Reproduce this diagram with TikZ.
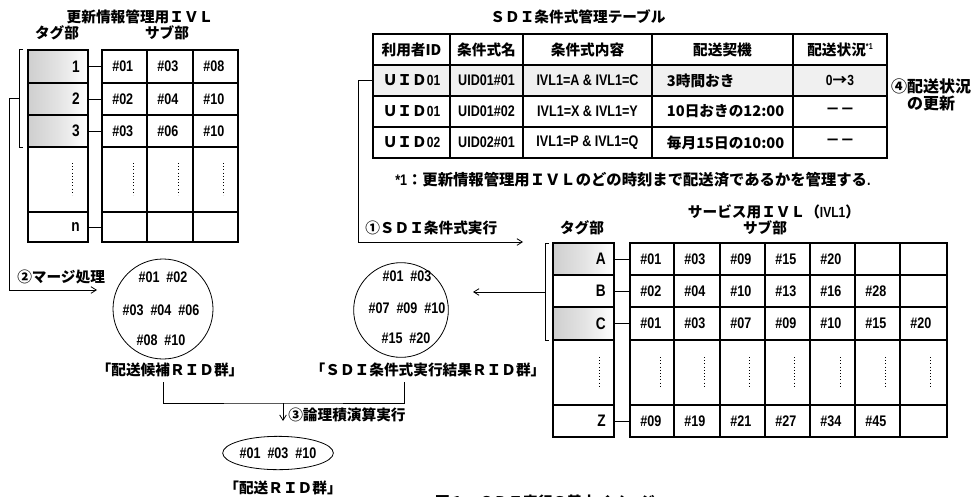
\documentclass[tikz,border=0pt]{standalone}
\usepackage{fontspec}
\setmainfont{Noto Sans CJK JP}
\newfontfamily\numf{Liberation Sans}[FakeStretch=0.82]
\usetikzlibrary{shapes.geometric,arrows.meta}
\tikzset{
 cellc/.style={draw, line width=0.9pt, inner sep=0pt, outer sep=0pt, rectangle},
 nos/.style={},
 shd/.style={left color=gray!38, right color=white, middle color=gray!22},
 shdl/.style={fill=gray!12},
 txt/.style={inner sep=0pt, font=\fontsize{11}{12}\selectfont\bfseries},
 num/.style={inner sep=0pt, font=\fontsize{11.5}{12}\selectfont\numf\bfseries},
 tagl/.style={inner sep=0pt, font=\fontsize{12.5}{13}\selectfont\numf\bfseries},
 conn/.style={line width=0.6pt},
 arr/.style={line width=0.6pt, -{Straight Barb[length=4pt,width=5pt]}},
 dotl/.style={line width=0.6pt, dash pattern=on 0.8pt off 1.6pt},
 circ/.style={draw, circle, line width=0.6pt, inner sep=0pt},
}
\newcommand\mkcell[6][nos]{%
  \pgfmathsetmacro\cw{(#5-#3)*0.75}%
  \pgfmathsetmacro\ch{(#6-#4)*0.75}%
  \node[cellc, #1, minimum width=\cw pt, minimum height=\ch pt, anchor=north west] (#2) at (#3,#4) {};}
\begin{document}
\begin{tikzpicture}[x=0.75pt,y=-0.75pt]
\useasboundingbox (0,0) rectangle (973,496);

% ---------- left IVL ----------
\node[txt] (ltitle) at (140,17) {更新情報管理用ＩＶＬ};
\node[txt] (ltag) at (57,33) {タグ部};
\node[txt] (lsub) at (167,33) {サブ部};
\foreach \i/\ya/\yb/\s in {1/50/83/shd,2/83/115/shd,3/115/147/shd,4/147/212/nos,5/212/242/nos}{
  \mkcell[\s]{lt\i}{28}{\ya}{88}{\yb}
  \foreach \j/\xa/\xb in {1/102/147,2/147/193,3/193/238}{\mkcell{ls\i-\j}{\xa}{\ya}{\xb}{\yb}}
}
\foreach \i/\t in {1/1,2/2,3/3,5/n}{
  \node[tagl, anchor=east] (ltl\i) at ([xshift=-6pt]lt\i.east) {\t};
  \draw[conn] (lt\i.east) -- (ls\i-1.west);
}
\foreach \i/\a/\b/\c in {1/01/03/08,2/02/04/10,3/03/06/10}{
  \node[num, anchor=west] (lx\i-1) at ([xshift=7.5pt]ls\i-1.west) {\#\a};
  \node[num, anchor=west] (lx\i-2) at ([xshift=7.5pt]ls\i-2.west) {\#\b};
  \node[num, anchor=west] (lx\i-3) at ([xshift=7.5pt]ls\i-3.west) {\#\c};
}
\foreach \x in {72,133,178,223}{\draw[dotl] (\x,163) -- (\x,195);}
\draw[conn] (23,49) -- (19,49) -- (19,147) -- (23,147);
\coordinate (lbm) at (19,98);
\coordinate (mEnd) at (97,290);
\draw[arr] (lbm) -- ++(-10,0) |- (mEnd);
\node[txt, anchor=west] (mergelab) at (17,277) {②マージ処理};

% ---------- SDI table ----------
\node[txt] (stitle) at (578,17) {ＳＤＩ条件式管理テーブル};
\foreach \r/\ya/\yb/\s in {0/34/65/nos,1/65/96/shdl,2/96/127/nos,3/127/158/nos}{
  \foreach \c/\xa/\xb in {1/373/450,2/450/523,3/523/652,4/652/793,5/793/887}{\mkcell[\s]{sd\r-\c}{\xa}{\ya}{\xb}{\yb}}
}
\node[txt] (h1) at (sd0-1) {利用者ID};
\node[txt] (h2) at (sd0-2) {条件式名};
\node[txt] (h3) at (sd0-3) {条件式内容};
\node[txt] (h4) at (sd0-4) {配送契機};
\node[txt] (h5) at (sd0-5) {配送状況\raisebox{4pt}{\fontsize{6.5}{7}\selectfont\numf *1}};
\foreach \r/\u/\n/\e/\k/\s in {1/{ＵＩＤ{\numf\bfseries 01}}/{UID01\#01}/{IVL1=A \& IVL1=C}/{3時間おき}/{{\numf\bfseries 0}→{\numf\bfseries 3}},
  2/{ＵＩＤ{\numf\bfseries 01}}/{UID01\#02}/{IVL1=X \& IVL1=Y}/{10日おきの12:00}/{－－},
  3/{ＵＩＤ{\numf\bfseries 02}}/{UID02\#01}/{IVL1=P \& IVL1=Q}/{毎月15日の10:00}/{－－}}{
  \node[txt] (su\r) at (sd\r-1) {\u};
  \node[num] (sn\r) at (sd\r-2) {\n};
  \node[num] (se\r) at (sd\r-3) {\e};
  \node[txt, anchor=west] (sk\r) at ([xshift=11pt]sd\r-4.west) {\k};
  \node[txt] (ss\r) at (sd\r-5) {\s};
}
\node[txt, align=center, font=\fontsize{12}{13}\selectfont\bfseries] (upd) at (931,95) {④配送状況\\[0pt]の更新};
\node[txt, anchor=west, font=\fontsize{11.5}{13}\selectfont\bfseries] (fnote) at (395,180) {{\numf\bfseries *1}：更新情報管理用ＩＶＬのどの時刻まで配送済であるかを管理する{\numf\bfseries .}};
\coordinate (c1End) at (523,242);
\draw[arr] (sd1-1.west) -- ++(-15,0) |- (c1End);
\node[txt, anchor=west] (execlab) at (365,228) {①ＳＤＩ条件式実行};

% ---------- service IVL ----------
\node[txt] (rtitle) at (774,212) {サービス用ＩＶＬ（{\numf\bfseries IVL1}）};
\node[txt] (rtag) at (582,228) {タグ部};
\node[txt] (rsub) at (765,228) {サブ部};
\foreach \i/\ya/\yb/\s in {1/243/275/shd,2/275/307/nos,3/307/340/shd,4/340/405/nos,5/405/437/nos}{
  \mkcell[\s]{rt\i}{553}{\ya}{614}{\yb}
  \foreach \j/\xa/\xb in {1/630/674,2/674/720,3/720/765,4/765/810,5/810/855,6/855/900,7/900/947}{\mkcell{rs\i-\j}{\xa}{\ya}{\xb}{\yb}}
}
\foreach \i/\t in {1/A,2/B,3/C,5/Z}{
  \node[tagl, anchor=east] (rtl\i) at ([xshift=-6pt]rt\i.east) {\t};
  \draw[conn] (rt\i.east) -- (rs\i-1.west);
}
\foreach \i/\j/\t in {1/1/01,1/2/03,1/3/09,1/4/15,1/5/20,
  2/1/02,2/2/04,2/3/10,2/4/13,2/5/16,2/6/28,
  3/1/01,3/2/03,3/3/07,3/4/09,3/5/10,3/6/15,3/7/20,
  5/1/09,5/2/19,5/3/21,5/4/27,5/5/34,5/6/45}{
  \node[num, anchor=west] (rx\i-\j) at ([xshift=7.5pt]rs\i-\j.west) {\#\t};
}
\foreach \x in {599,660,704,749,794,840,885,930}{\draw[dotl] (\x,357) -- (\x,388);}
\draw[conn] (549,243) -- (545,243) -- (545,340) -- (549,340);
\coordinate (rbm) at (545,292);
\coordinate (rEnd) at (473,292);
\draw[arr] (rbm) -- (rEnd);

% ---------- RID groups ----------
\node[circ, minimum size=75pt] (lcirc) at (163,309) {};
\node[num] (lc1) at (163,277) {\#01\ \ \#02};
\node[num] (lc2) at (161,310) {\#03\ \ \#04\ \ \#06};
\node[num] (lc3) at (161,340) {\#08\ \ \#10};
\node[circ, minimum size=71pt] (rcirc) at (401,310) {};
\node[num] (rc1) at (407,276) {\#01\ \ \#03};
\node[num] (rc2) at (407,308) {\#07\ \ \#09\ \ \#10};
\node[num] (rc3) at (406,338) {\#15\ \ \#20};
\node[txt] (llab) at (170,370) {「配送候補ＲＩＤ群」};
\node[txt] (rlab) at (428,370) {「ＳＤＩ条件式実行結果ＲＩＤ群」};
\coordinate (bl) at (163,382);
\coordinate (br) at (404,382);
\coordinate (bm) at (283,403);
\coordinate (aEnd) at (283,421);
\draw[conn] (bl) |- (bm) -| (br);
\draw[arr] (bm) -- (aEnd);
\node[txt, anchor=west] (andlab) at (288,415) {③論理積演算実行};
\node[draw, ellipse, line width=0.6pt, minimum width=83pt, minimum height=25pt, inner sep=0pt] (andres) at (278,453) {};
\node[num] (andtxt) at (278,453) {\#01\ \ \#03\ \ \#10};
\node[txt] (flab) at (283,488) {「配送ＲＩＤ群」};
\node[txt] (caption) at (545,502) {図１　ＳＤＩ実行の基本イメージ};
\end{tikzpicture}
\end{document}
